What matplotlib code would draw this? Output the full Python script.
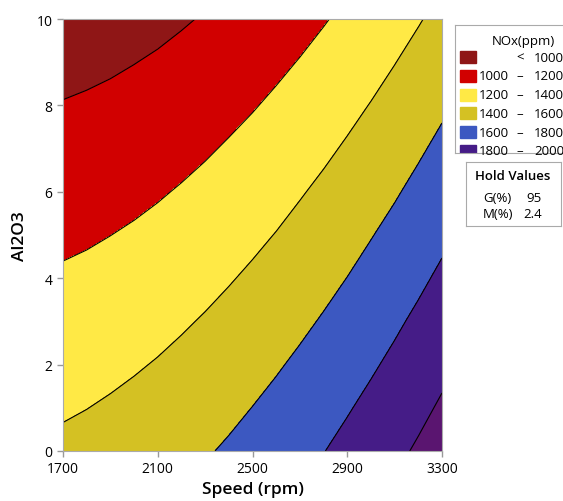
import numpy as np
import matplotlib.pyplot as plt
from matplotlib.patches import Rectangle

# --- data ---
speed = [1700, 1800, 1900, 2000, 2100, 2200, 2300, 2400, 2500,
         2600, 2700, 2800, 2900, 3000, 3100, 3200, 3300]
al2o3 = [0, 1, 2, 3, 4, 5, 6, 7, 8, 9, 10]

# NOx (ppm) at each speed (one row per speed, Al2O3 = 0..10), G = 95 %, M = 2.4 %
nox_by_speed = [
    [1435, 1382, 1328, 1275, 1221, 1168, 1114, 1061, 1007, 954, 900],
    [1452, 1398, 1344, 1290, 1236, 1181, 1127, 1073, 1019, 965, 911],
    [1473, 1418, 1363, 1308, 1253, 1199, 1144, 1089, 1034, 979, 925],
    [1496, 1441, 1385, 1330, 1274, 1219, 1163, 1108, 1052, 997, 941],
    [1523, 1466, 1410, 1354, 1298, 1242, 1186, 1130, 1074, 1017, 961],
    [1552, 1496, 1439, 1382, 1325, 1269, 1212, 1155, 1098, 1041, 985],
    [1585, 1528, 1470, 1413, 1355, 1298, 1241, 1183, 1126, 1068, 1011],
    [1621, 1563, 1505, 1447, 1389, 1331, 1273, 1215, 1157, 1098, 1040],
    [1660, 1602, 1543, 1484, 1425, 1367, 1308, 1249, 1190, 1132, 1073],
    [1703, 1643, 1584, 1524, 1465, 1405, 1346, 1287, 1227, 1168, 1108],
    [1748, 1688, 1628, 1568, 1508, 1448, 1388, 1328, 1267, 1207, 1147],
    [1796, 1736, 1675, 1614, 1554, 1493, 1432, 1371, 1311, 1250, 1189],
    [1848, 1787, 1725, 1664, 1602, 1541, 1480, 1418, 1357, 1296, 1234],
    [1903, 1841, 1779, 1717, 1655, 1593, 1531, 1469, 1406, 1344, 1282],
    [1961, 1898, 1835, 1773, 1710, 1647, 1584, 1522, 1459, 1396, 1334],
    [2022, 1958, 1895, 1832, 1768, 1705, 1642, 1578, 1515, 1452, 1388],
    [2086, 2022, 1958, 1894, 1830, 1766, 1702, 1638, 1574, 1510, 1446],
]

levels = [0, 1000, 1200, 1400, 1600, 1800, 2000, 3000]
band_colors = ['#8f1616', '#d10000', '#ffe945', '#d4c123',
               '#3c58c1', '#451c87', '#5a1570']

x_ticks = [1700, 2100, 2500, 2900, 3300]
y_ticks = [0, 2, 4, 6, 8, 10]

hold_names = ['G(%)', 'M(%)']
hold_values = ['95', '2.4']


def main():
    plt.rcParams['font.family'] = ['Open Sans', 'DejaVu Sans']

    X, Y = np.meshgrid(speed, al2o3)
    Z = np.array(nox_by_speed).T

    fig = plt.figure(figsize=(5.63, 5.02), dpi=100)
    ax = fig.add_axes([63 / 563, 1 - 452 / 502, 379 / 563, 432 / 502])

    ax.contourf(X, Y, Z, levels=levels, colors=band_colors)
    ax.contour(X, Y, Z, levels=levels[1:-1], colors='black', linewidths=0.8)

    ax.set_xlim(1700, 3300)
    ax.set_ylim(0, 10)
    ax.set_xticks(x_ticks)
    ax.set_yticks(y_ticks)
    ax.tick_params(colors='#999999', labelcolor='black', labelsize=10,
                   length=4, width=1)
    for sp in ax.spines.values():
        sp.set_color('#aaaaaa')
    ax.set_xlabel('Speed (rpm)', fontsize=12.5, fontweight='semibold', labelpad=3)
    ax.set_ylabel('Al2O3', fontsize=12.5, fontweight='semibold', labelpad=6)

    # legend for the contour bands (box runs past the right edge)
    lax = fig.add_axes([455 / 563, 1 - 154 / 502, 120 / 563, 128 / 502])
    lax.set_xlim(0, 120)
    lax.set_ylim(128, 0)
    lax.set_xticks([])
    lax.set_yticks([])
    for sp in lax.spines.values():
        sp.set_color('#aaaaaa')
    lax.text(68, 15, 'NOx(ppm)', ha='center', va='center', fontsize=9.5)
    for i, col in enumerate(band_colors[:-1]):
        yc = 32 + i * 18.8
        lax.add_patch(Rectangle((5, yc - 6), 16, 12, color=col))
        lo, hi = levels[i], levels[i + 1]
        if i == 0:
            lax.text(65, yc, '<', ha='center', va='center', fontsize=9.5)
        else:
            lax.text(54, yc, str(lo), ha='right', va='center', fontsize=9.5)
            lax.text(65, yc, '–', ha='center', va='center', fontsize=9.5)
        lax.text(79, yc, str(hi), ha='left', va='center', fontsize=9.5)

    # hold values box
    hax = fig.add_axes([466 / 563, 1 - 227 / 502, 95 / 563, 64 / 502])
    hax.set_xlim(0, 95)
    hax.set_ylim(64, 0)
    hax.set_xticks([])
    hax.set_yticks([])
    for sp in hax.spines.values():
        sp.set_color('#aaaaaa')
    hax.text(47, 14, 'Hold Values', ha='center', va='center',
             fontsize=9.5, fontweight='semibold')
    for i, (name, val) in enumerate(zip(hold_names, hold_values)):
        yc = 35 + i * 17
        hax.text(17, yc, name, ha='left', va='center', fontsize=9.5)
        hax.text(76, yc, val, ha='right', va='center', fontsize=9.5)

    fig.savefig('out.png', dpi=100)


if __name__ == '__main__':
    main()
